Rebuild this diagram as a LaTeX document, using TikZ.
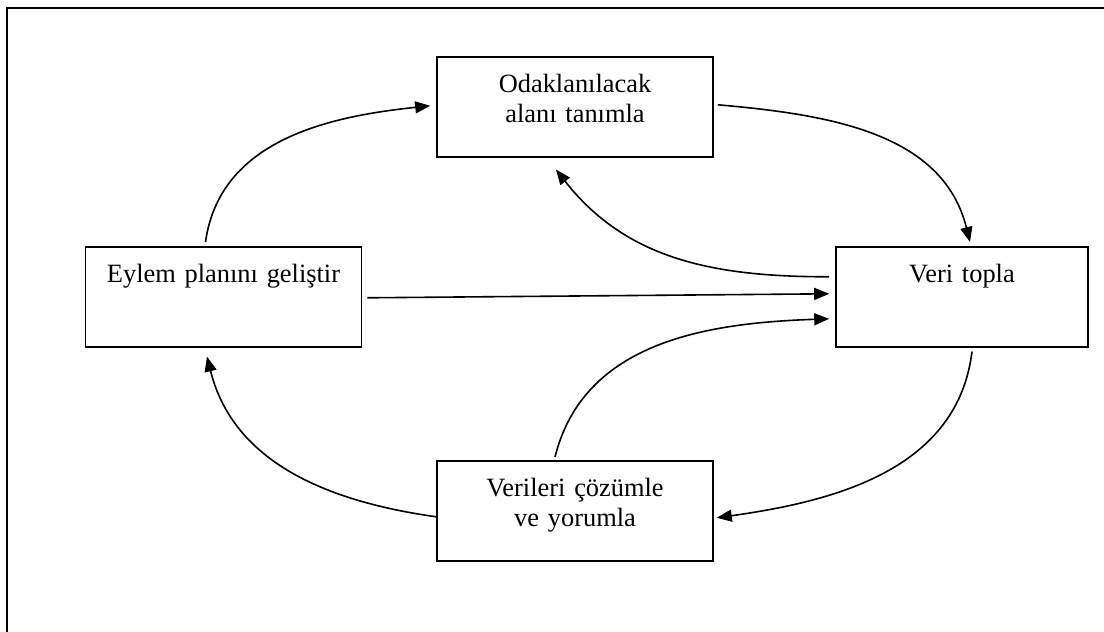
\documentclass[tikz,border=0pt]{standalone}
\usepackage{fontspec}
\setmainfont{Liberation Serif}
\usepackage{tikz}
\usetikzlibrary{arrows.meta}
\usepackage{xcolor}
\definecolor{ColLine}{RGB}{0,0,0}
\tikzstyle{StepBox}=[rectangle,draw=ColLine,line width=1.6pt,anchor=north,inner sep=0pt,
text width=276pt,align=center,text height=36pt,text depth=64pt,
font=\fontsize{26.4}{30}\selectfont]
\tikzstyle{CycleArrow}=[ColLine,line width=1.6pt,-{Triangle[length=15pt,width=12pt]}]

\begin{document}
\begin{tikzpicture}[x=1pt,y=1pt]
        \useasboundingbox(0,0)rectangle(1104,632);
        \draw[ColLine,line width=2.6pt](7,0)--(7,624)--(1110,624);
        \node[StepBox](focus)at(575,576){Odaklanılacak\\alanı tanımla};
        \node[StepBox,text width=252pt](collect)at(962,386){Veri topla};
        \node[StepBox](plan)at(223.5,386){Eylem planını geliştir};
        \node[StepBox](analyse)at(575,172){Verileri çözümle\\ve yorumla};
        \draw[CycleArrow]([xshift=-18,yshift=4]plan.north)to[out=82,in=186]([xshift=-6,yshift=1]focus.west);
        \draw[CycleArrow]([xshift=4,yshift=2]focus.east)to[out=-5,in=104]([xshift=8,yshift=4]collect.north);
        \draw[CycleArrow]([xshift=-6,yshift=20]collect.west)to[out=180,in=-52]([xshift=-19,yshift=-12]focus.south);
        \draw[CycleArrow]([xshift=5,yshift=-1]plan.east)--([xshift=-6,yshift=3]collect.west);
        \draw[CycleArrow]([xshift=-20,yshift=3]analyse.north)to[out=76,in=182]([xshift=-6,yshift=-22]collect.west);
        \draw[CycleArrow]([xshift=10,yshift=-4]collect.south)to[out=-97,in=8]([xshift=3,yshift=-7]analyse.east);
        \draw[CycleArrow]([yshift=-6]analyse.west)to[out=172,in=-76]([xshift=-16.5,yshift=-9]plan.south);
    \end{tikzpicture}
\end{document}
